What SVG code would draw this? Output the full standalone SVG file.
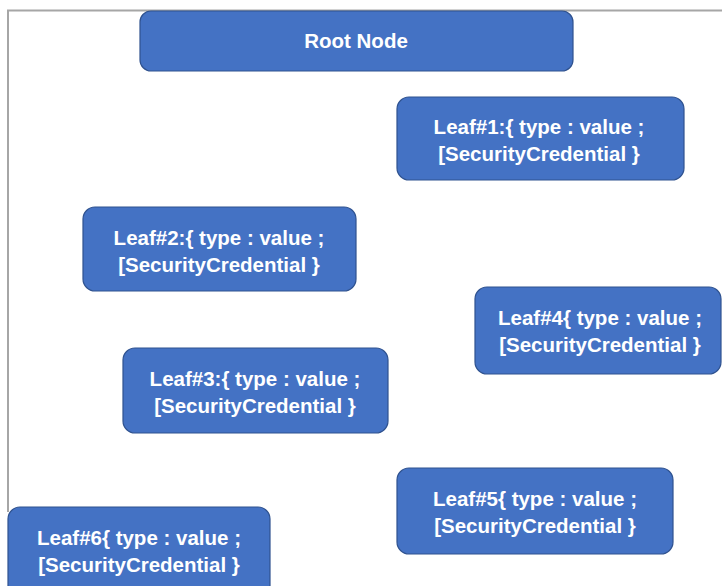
<svg xmlns="http://www.w3.org/2000/svg" width="722" height="586" viewBox="0 0 722 586">
  <style>
    .box { fill: #4472C4; stroke: #2F528F; stroke-width: 1.2; }
    .lbl { fill: #FFFFFF; font-family: "Liberation Sans", Arial, sans-serif; font-weight: bold; font-size: 20.5px; text-anchor: middle; }
    .frame { fill: none; stroke: #A6A6A6; stroke-width: 2; }
  </style>
  <rect width="722" height="586" fill="#FFFFFF"/>
  <!-- page frame (top and left edges) -->
  <path class="frame" d="M8,512 V10.5 H722"/>

  <g id="root">
    <rect class="box" x="140" y="11" width="433" height="60" rx="11"/>
    <text class="lbl" x="356" y="48" font-size="19">Root Node</text>
  </g>

  <g id="leaf1">
    <rect class="box" x="397" y="97" width="287" height="83" rx="12"/>
    <text class="lbl" x="539" y="134">Leaf#1:{ type : value ;</text>
    <text class="lbl" x="539" y="161">[SecurityCredential }</text>
  </g>

  <g id="leaf2">
    <rect class="box" x="83" y="207" width="273" height="84" rx="12"/>
    <text class="lbl" x="219" y="245">Leaf#2:{ type : value ;</text>
    <text class="lbl" x="219" y="272">[SecurityCredential }</text>
  </g>

  <g id="leaf4">
    <rect class="box" x="475" y="287" width="246" height="87" rx="12"/>
    <text class="lbl" x="600" y="325">Leaf#4{ type : value ;</text>
    <text class="lbl" x="600" y="352">[SecurityCredential }</text>
  </g>

  <g id="leaf3">
    <rect class="box" x="123" y="348" width="265" height="85" rx="12"/>
    <text class="lbl" x="255" y="386">Leaf#3:{ type : value ;</text>
    <text class="lbl" x="255" y="413">[SecurityCredential }</text>
  </g>

  <g id="leaf5">
    <rect class="box" x="397" y="468" width="276" height="86" rx="12"/>
    <text class="lbl" x="535" y="506">Leaf#5{ type : value ;</text>
    <text class="lbl" x="535" y="533">[SecurityCredential }</text>
  </g>

  <g id="leaf6">
    <rect class="box" x="8" y="507" width="262" height="95" rx="12"/>
    <text class="lbl" x="139" y="545">Leaf#6{ type : value ;</text>
    <text class="lbl" x="139" y="572">[SecurityCredential }</text>
  </g>

  <g id="connectors"></g>
</svg>
